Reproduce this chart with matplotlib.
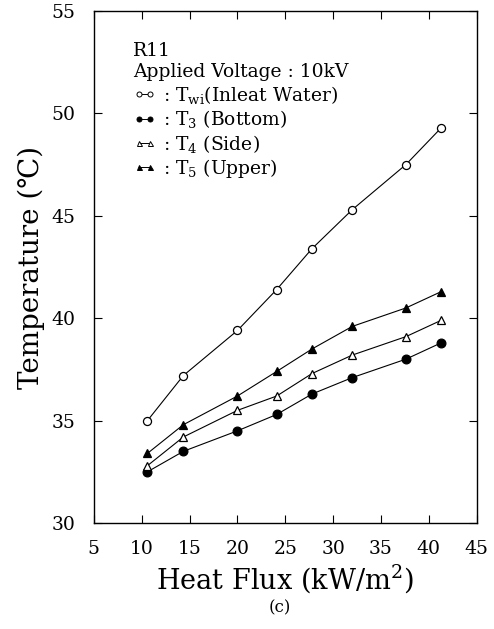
import matplotlib
matplotlib.use('Agg')
import matplotlib.pyplot as plt
from matplotlib.lines import Line2D

plt.rcParams['font.family'] = ['DejaVu Serif', 'DejaVu Sans']
plt.rcParams['mathtext.fontset'] = 'dejavuserif'

# data
heat_flux = [10.6, 14.35, 20.0, 24.1, 27.8, 32.0, 37.6, 41.3]
t_wi = [35.0, 37.2, 39.4, 41.4, 43.4, 45.3, 47.5, 49.3]
t_3 = [32.5, 33.5, 34.5, 35.3, 36.3, 37.1, 38.0, 38.8]
t_4 = [32.8, 34.2, 35.5, 36.2, 37.3, 38.2, 39.1, 39.9]
t_5 = [33.4, 34.8, 36.2, 37.4, 38.5, 39.6, 40.5, 41.3]

series_labels = [r': T$_\mathregular{wi}$(Inleat Water)',
                 r': T$_\mathregular{3}$ (Bottom)',
                 r': T$_\mathregular{4}$ (Side)',
                 r': T$_\mathregular{5}$ (Upper)']
x_ticks = [5, 10, 15, 20, 25, 30, 35, 40, 45]
y_ticks = [30, 35, 40, 45, 50, 55]

fig = plt.figure(figsize=(4.94, 6.29), dpi=100)
ax = fig.add_axes([0.19, 0.1685, 0.775, 0.814])

styles = [
    dict(marker='o', mfc='white', ms=5.8),
    dict(marker='o', mfc='black', ms=6.3),
    dict(marker='^', mfc='white', ms=6),
    dict(marker='^', mfc='black', ms=6),
]
handles = []
for ys, st, lab in zip([t_wi, t_3, t_4, t_5], styles, series_labels):
    ax.plot(heat_flux, ys, color='black', lw=0.8, mec='black', mew=0.9, **st)
    handles.append(Line2D([], [], color='black', lw=0.7, mec='black',
                          mew=0.7, marker=st['marker'], mfc=st['mfc'],
                          ms=3.6))

leg = ax.legend(handles, series_labels, loc='upper left', frameon=False,
                numpoints=2, handlelength=1.2, handletextpad=0.4,
                labelspacing=0.13, fontsize=13.5, borderpad=0.0,
                title='R11\nApplied Voltage : 10kV', title_fontsize=13.5,
                alignment='left', borderaxespad=0.0,
                bbox_to_anchor=(0.103, 0.94))
leg.get_title().set_linespacing(1.25)

ax.set_xlim(5, 45)
ax.set_ylim(30, 55)
ax.set_xticks(x_ticks)
ax.set_yticks(y_ticks)
ax.tick_params(direction='in', length=6, width=0.8, top=True, right=True,
               labelsize=13.5)
ax.tick_params(axis='x', pad=12)
ax.tick_params(axis='y', pad=13)
for sp in ax.spines.values():
    sp.set_linewidth(1.0)

ax.set_xlabel(r'Heat Flux (kW/m$^\mathregular{2}$)', fontsize=19.5, labelpad=3)
ax.set_ylabel('Temperature (\u2103)', fontsize=20, labelpad=5)
fig.text(0.567, 0.033, '(c)', ha='center', va='center', fontsize=12)

fig.savefig('out.png', dpi=100)
